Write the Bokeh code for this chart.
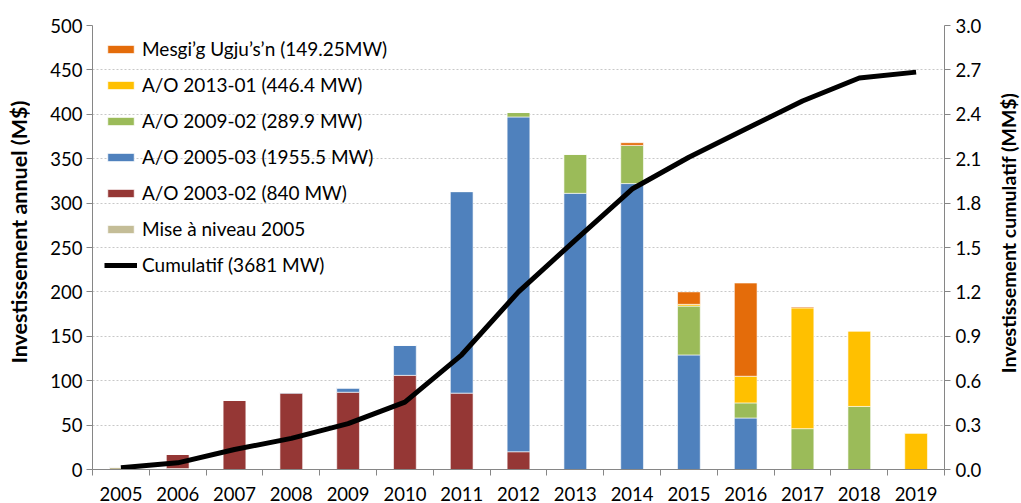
import math
from bokeh.plotting import figure
from bokeh.layouts import row
from bokeh.core.properties import value
from bokeh.models import (Range1d, LinearAxis, FixedTicker, Legend, LegendItem,
                          ColumnDataSource, NumeralTickFormatter, CustomJSTickFormatter)
from bokeh.embed import file_html
from bokeh.resources import INLINE

years = [str(y) for y in range(2005, 2020)]
mise_a_niveau = [3, 1, 0, 0, 0, 0, 0, 0, 0, 0, 0, 0, 0, 0, 0]
ao_2003_02 = [0, 16, 78, 86, 87, 106, 86, 20, 0, 0, 0, 0, 0, 0, 0]
ao_2005_03 = [0, 0, 0, 1, 5, 34, 227, 377, 311, 322, 129, 58, 0, 0, 0]
ao_2009_02 = [0, 0, 0, 0, 0, 0, 0, 5, 44, 43, 55, 17, 46, 71, 0]
ao_2013_01 = [0, 0, 0, 0, 0, 0, 0, 0, 0, 0, 2, 30, 136, 85, 41]
mesgig = [0, 0, 0, 0, 0, 0, 0, 0, 0, 3, 14, 105, 1, 0, 0]
cumulatif = [0.012, 0.045, 0.135, 0.21, 0.31, 0.455, 0.775, 1.2, 1.55, 1.895,
             2.11, 2.30, 2.49, 2.645, 2.685]

left_ticks = list(range(0, 501, 50))
right_ticks = [round(i * 0.3, 1) for i in range(11)]

series = ["mise", "r0302", "b0503", "g0902", "y1301", "o_mesgig"]
colors = ["#C4BD97", "#953735", "#4F81BD", "#9BBB59", "#FFC000", "#E46C0A"]
labels = ["Mise à niveau 2005", "A/O 2003-02 (840 MW)", "A/O 2005-03 (1955.5 MW)",
          "A/O 2009-02 (289.9 MW)", "A/O 2013-01 (446.4 MW)", "Mesgi’g Ugju’s’n (149.25MW)"]
left_title = "Investissement annuel (M$)"
right_title = "Investissement cumulatif (MM$)"

n = len(years)
xs = [i + 0.5 for i in range(n)]
src = ColumnDataSource(dict(x=xs, mise=mise_a_niveau, r0302=ao_2003_02, b0503=ao_2005_03,
                            g0902=ao_2009_02, y1301=ao_2013_01, o_mesgig=mesgig,
                            cum=cumulatif))

FONT = "Lato"
TXT = "#000000"
AX = "#868686"
TICK_FS = "18.5px"
H = 503
SIDE_L = 30
SIDE_R = 30
W_MAIN = 1021 - SIDE_L - SIDE_R

p = figure(width=W_MAIN, height=H, output_backend="svg", toolbar_location=None,
           x_range=Range1d(0, n), y_range=Range1d(0, 500),
           min_border_left=92 - SIDE_L, min_border_right=77 - SIDE_R,
           min_border_top=25, min_border_bottom=34)
p.outline_line_color = None
p.background_fill_color = "white"
p.xgrid.grid_line_color = None
p.ygrid.grid_line_color = "#c8c8c8"
p.ygrid.grid_line_dash = "2 2"
p.ygrid.grid_line_width = 1

p.extra_y_ranges = {"cum": Range1d(0, 3.0)}

bars = p.vbar_stack(series, x="x", width=0.4, source=src, color=colors,
                    line_color="white", line_width=0.6)
line = p.line(x="x", y="cum", source=src, y_range_name="cum", line_color="black",
              line_width=5, line_join="round")

# axes
xa = p.xaxis[0]
xa.ticker = FixedTicker(ticks=xs, minor_ticks=list(range(n + 1)))
xa.formatter = CustomJSTickFormatter(args=dict(labels=years),
                                     code="return labels[Math.floor(tick)];")
xa.major_tick_out = 0
xa.major_tick_in = 0
xa.minor_tick_out = 6
xa.minor_tick_in = 0
xa.minor_tick_line_color = AX
xa.axis_line_color = AX
xa.major_label_standoff = 11
xa.major_label_text_font = FONT
xa.major_label_text_font_size = TICK_FS
xa.major_label_text_color = TXT

ya = p.yaxis[0]
ya.ticker = FixedTicker(ticks=left_ticks)
ya.minor_tick_line_color = None
ya.major_tick_out = 6
ya.major_tick_in = 0
ya.major_tick_line_color = AX
ya.axis_line_color = AX
ya.major_label_standoff = 4
ya.major_label_text_font = FONT
ya.major_label_text_font_size = TICK_FS
ya.major_label_text_color = TXT

ra = LinearAxis(y_range_name="cum", ticker=FixedTicker(ticks=right_ticks),
                formatter=NumeralTickFormatter(format="0.0"))
ra.minor_tick_line_color = None
ra.major_tick_out = 6
ra.major_tick_in = 0
ra.major_tick_line_color = AX
ra.axis_line_color = AX
ra.major_label_standoff = 5
ra.major_label_text_font = FONT
ra.major_label_text_font_size = TICK_FS
ra.major_label_text_color = TXT
p.add_layout(ra, "right")

items = [LegendItem(label=labels[i], renderers=[bars[i]]) for i in reversed(range(len(series)))]
items.append(LegendItem(label="Cumulatif (3681 MW)", renderers=[line]))
legend = Legend(items=items, location="top_left", margin=12, padding=0,
                spacing=13, glyph_width=33, glyph_height=10, label_height=20,
                label_standoff=5, label_text_font=FONT, label_text_font_size="19px",
                label_text_color=TXT, background_fill_alpha=0, border_line_alpha=0)
p.add_layout(legend)


def side_title(width, text, cx, cy, size):
    s = figure(width=width, height=H, output_backend="svg", toolbar_location=None,
               x_range=Range1d(0, width), y_range=Range1d(H, 0),
               x_axis_location=None, y_axis_location=None,
               min_border=0, min_border_left=0, min_border_right=0,
               min_border_top=0, min_border_bottom=0)
    s.outline_line_color = None
    s.grid.grid_line_color = None
    s.text(x=[cx], y=[cy], text=[text], angle=math.pi / 2, text_align="center",
           text_baseline="middle", text_font=value(FONT), text_font_style="bold",
           text_font_size=value(size), text_color=TXT)
    return s


left = side_title(SIDE_L, left_title, 18, 234, "21.5px")
right = side_title(SIDE_R, right_title, 17, 235, "19.5px")

layout = row(left, p, right, spacing=0)
open("out.html", "w").write(file_html(layout, INLINE))
